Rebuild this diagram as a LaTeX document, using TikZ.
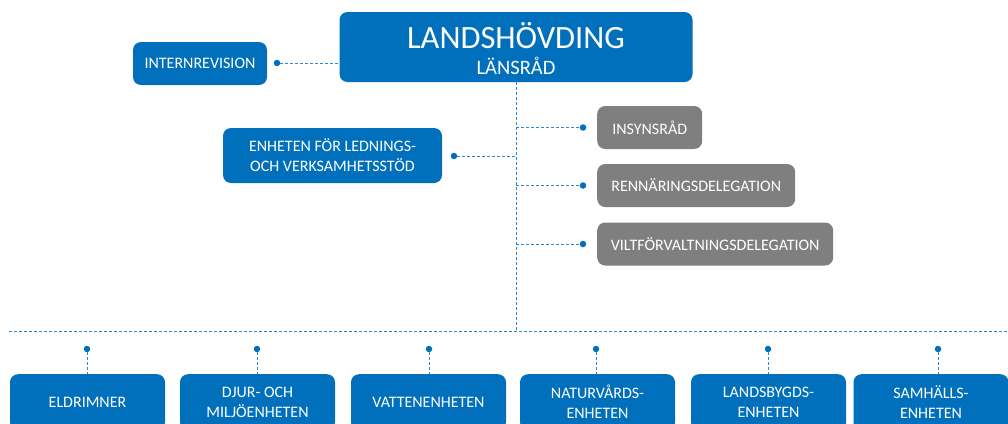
\documentclass[tikz,border=0pt]{standalone}
\usepackage{fontspec}
\setmainfont{Carlito}
\usetikzlibrary{positioning}
\definecolor{lstblue}{RGB}{0,112,188}
\definecolor{lstgray}{RGB}{127,127,127}
\definecolor{linkblue}{RGB}{40,135,205}
\tikzset{
  unit/.style={fill=lstblue, text=white, rounded corners=8pt, align=center,
    inner sep=0pt, font=\fontsize{16}{20}\selectfont},
  council/.style={unit, fill=lstgray, minimum height=43pt, anchor=west},
  link/.style={linkblue, dash pattern=on 3pt off 2pt, line width=1pt},
  dot/.style={circle, fill=lstblue, inner sep=0pt, minimum size=6.5pt},
}
\begin{document}
\begin{tikzpicture}[x=1pt, y=-1pt]
    \clip (0,0) rectangle (1008,423);
    % top
    \node[unit, minimum width=353pt, minimum height=70pt] (chief) at (516,47) {};
    \node[text=white, font=\fontsize{32.5}{32}\selectfont] at ([yshift=11pt]chief.center) {LANDSHÖVDING};
    \node[text=white, font=\fontsize{20.5}{20}\selectfont] at ([yshift=-19pt]chief.center) {LÄNSRÅD};
    \node[unit, minimum width=134pt, minimum height=43pt] (audit) at (200,63.5) {INTERNREVISION};
    \node[dot] (auditdot) at (277,63) {};
    \draw[link] (auditdot) -- (auditdot -| chief.west);
    \node[unit, minimum width=219pt, minimum height=55pt] (staff) at (332.5,155.5) {ENHETEN FÖR LEDNINGS-\\OCH VERKSAMHETSSTÖD};
    \node[dot] (staffdot) at (454,156) {};
    % councils
    \node[council, minimum width=105pt] (insyn) at (597,127.5) {INSYNSRÅD};
    \node[council, minimum width=198pt] (renn) at (597,185.5) {RENNÄRINGSDELEGATION};
    \node[council, minimum width=236pt] (vilt) at (597,244) {VILTFÖRVALTNINGSDELEGATION};
    \foreach \c in {insyn, renn, vilt}
        \node[dot] (\c dot) at ([xshift=-14pt]\c.west) {};
    % trunk and bus
    \coordinate (bus) at (chief.south |- 0,331);
    \coordinate (busL) at (9,331);
    \coordinate (busR) at (1008,331);
    \draw[link] (chief.south) -- (bus);
    \draw[link] (busL) -- (busR);
    \draw[link] (staffdot) -- (staffdot -| chief.south);
    \foreach \c in {insyn, renn, vilt}
        \draw[link] (\c dot -| chief.south) -- (\c dot);
    % units
    \foreach \x/\d/\name/\txt in {87.5/87/eld/ELDRIMNER, 257.5/257/djur/{DJUR- OCH\\MILJÖENHETEN},
        428.5/429/vatten/VATTENENHETEN, 597.5/596/natur/{NATURVÅRDS-\\ENHETEN},
        768.5/768/bygd/{LANDSBYGDS-\\ENHETEN}, 931/938/samh/{SAMHÄLLS-\\ENHETEN}} {
        \node[unit, minimum width=155pt, minimum height=56pt, anchor=north] (\name) at (\x,374) {\txt};
        \node[dot] (\name dot) at (\d,349) {};
        \draw[link] (\name dot) -- (\name dot |- \name.north);
    }
\end{tikzpicture}
\end{document}
